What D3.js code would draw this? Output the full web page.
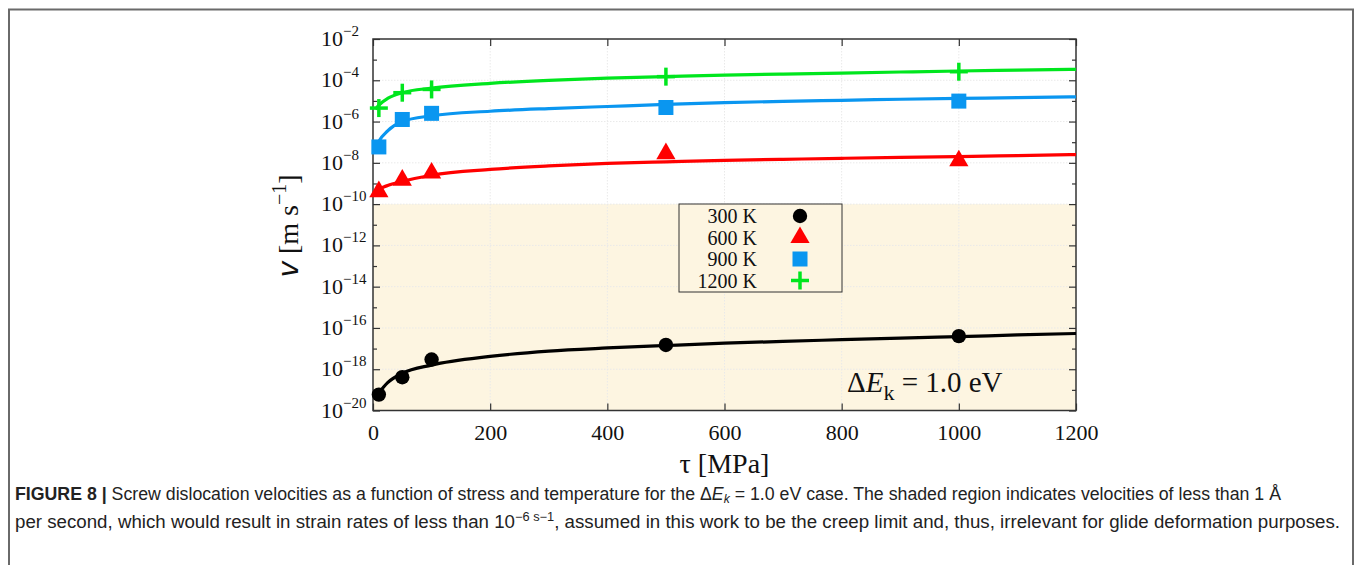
<!DOCTYPE html>
<html><head><meta charset="utf-8">
<script src="https://cdn.jsdelivr.net/npm/d3@7"></script>
<style>html,body{margin:0;padding:0;background:#fff;}svg{display:block;}</style>
</head><body>
<script>
// ---- data ----
const seriesNames = ["300 K", "600 K", "900 K", "1200 K"];
const seriesColors = ["#000000", "#ff0000", "#0a96f0", "#00e61e"];
const pointTau = [10, 50, 100, 500, 1000];
const v300 = [5.9e-20, 4.1e-19, 2.95e-18, 1.5e-17, 4.0e-17];
const v600 = [4.0e-10, 1.45e-9, 3.2e-9, 2.8e-8, 1.26e-8];
const v900 = [5.9e-8, 1.26e-6, 2.5e-6, 4.8e-6, 9.8e-6];
const v1200 = [4.5e-6, 2.5e-5, 3.6e-5, 1.5e-4, 2.6e-4];
// fitted curves (log10 of v)
const fitTau = [4, 10, 25, 50, 100, 200, 300, 400, 500, 600, 700, 800, 900, 1000, 1100, 1200];
const fit300 = [-19.38, -19.15, -18.65, -18.2, -17.8, -17.38, -17.12, -16.97, -16.85, -16.74, -16.65, -16.57, -16.49, -16.42, -16.34, -16.27];
const fit600 = [-9.5, -9.3, -9.1, -8.9, -8.6, -8.32, -8.15, -8.03, -7.95, -7.88, -7.83, -7.78, -7.74, -7.7, -7.65, -7.6];
const fit900 = [-7.3, -6.95, -6.45, -6.0, -5.72, -5.5, -5.37, -5.27, -5.17, -5.08, -5.02, -4.97, -4.92, -4.88, -4.84, -4.8];
const fit1200 = [-5.4, -5.2, -4.88, -4.6, -4.38, -4.15, -4.0, -3.9, -3.82, -3.75, -3.7, -3.65, -3.6, -3.55, -3.51, -3.47];
const xTicks = [0, 200, 400, 600, 800, 1000, 1200];
const yTickExps = [-20, -18, -16, -14, -12, -10, -8, -6, -4, -2];
const shadeLimit = 1e-10;

const W = 1355, H = 565;
const svg = d3.select("body").append("svg").attr("width", W).attr("height", H);
const serif = "'Liberation Serif','Times New Roman',serif";

// outer frame
svg.append("path").attr("d", `M9,${H+5} L9,9.5 L1353,9.5 L1353,${H+5}`)
  .attr("fill", "none").attr("stroke", "#6a6a6a").attr("stroke-width", 2);

const x = d3.scaleLinear().domain([0, 1200]).range([373, 1076]);
const y = d3.scaleLog().domain([1e-20, 1e-2]).range([410.5, 39]);
const L = x(0), R = x(1200), T = y(1e-2), B = y(1e-20);

// shaded region
svg.append("rect").attr("x", L).attr("y", y(shadeLimit)).attr("width", R - L).attr("height", B - y(shadeLimit))
  .attr("fill", "#fdf5e1");

// faint grid
const grid = svg.append("g").attr("stroke", "#e9e9e9").attr("stroke-width", 1).attr("stroke-dasharray", "1.5,1.5");
xTicks.slice(1, -1).forEach(t => grid.append("line").attr("x1", x(t)).attr("x2", x(t)).attr("y1", T).attr("y2", B));
yTickExps.slice(1, -1).forEach(e => grid.append("line").attr("x1", L).attr("x2", R).attr("y1", y(10 ** e)).attr("y2", y(10 ** e)));

// axes via d3
const xAxisB = d3.axisBottom(x).tickValues(xTicks).tickSize(-7).tickPadding(14).tickFormat(d3.format("d"));
const gx = svg.append("g").attr("transform", `translate(0,${B})`).call(xAxisB);
const xAxisT = d3.axisTop(x).tickValues(xTicks).tickSize(-7).tickFormat("");
const gxt = svg.append("g").attr("transform", `translate(0,${T})`).call(xAxisT);
const minorExps = d3.range(-19, -2, 2);
const yAxisL = d3.axisLeft(y).tickValues(yTickExps.map(e => 10 ** e)).tickSize(-7).tickFormat("");
const gy = svg.append("g").attr("transform", `translate(${L},0)`).call(yAxisL);
const yAxisLm = d3.axisLeft(y).tickValues(minorExps.map(e => 10 ** e)).tickSize(-4).tickFormat("");
const gym = svg.append("g").attr("transform", `translate(${L},0)`).call(yAxisLm);
const yAxisR = d3.axisRight(y).tickValues(yTickExps.map(e => 10 ** e)).tickSize(-7).tickFormat("");
const gyr = svg.append("g").attr("transform", `translate(${R},0)`).call(yAxisR);
const yAxisRm = d3.axisRight(y).tickValues(minorExps.map(e => 10 ** e)).tickSize(-4).tickFormat("");
const gyrm = svg.append("g").attr("transform", `translate(${R},0)`).call(yAxisRm);
[gx, gxt, gy, gym, gyr, gyrm].forEach(g => {
  g.select(".domain").remove();
  g.selectAll(".tick line").attr("stroke", "#333").attr("stroke-width", 1.2);
});
gx.selectAll(".tick text").attr("font-family", serif).attr("font-size", 22).attr("fill", "#111");

// y tick labels with superscripts
yTickExps.forEach(e => {
  const t = svg.append("text").attr("x", 345).attr("y", y(10 ** e) + 7)
    .attr("font-family", serif).attr("font-size", 22).attr("fill", "#111").attr("text-anchor", "start");
  t.append("tspan").text("10").attr("x", 321);
  t.append("tspan").text("\u2212" + (-e)).attr("font-size", 15).attr("dy", -10);
});

// frame of plot
svg.append("rect").attr("x", L).attr("y", T).attr("width", R - L).attr("height", B - T)
  .attr("fill", "none").attr("stroke", "#333").attr("stroke-width", 1.5);

// curves
const line = d3.line().x(d => x(d[0])).y(d => y(10 ** d[1])).curve(d3.curveMonotoneX);
const fits = [fit300, fit600, fit900, fit1200];
const pts = [v300, v600, v900, v1200];
const clip = svg.append("clipPath").attr("id", "c").append("rect").attr("x", L).attr("y", T).attr("width", R - L).attr("height", B - T);
fits.forEach((f, i) => {
  svg.append("path").attr("clip-path", "url(#c)").datum(fitTau.map((t, k) => [t, f[k]]))
    .attr("d", line).attr("fill", "none").attr("stroke", seriesColors[i]).attr("stroke-width", 3.2);
});

// markers
function drawMarker(g, i, cx, cy) {
  const c = seriesColors[i];
  if (i === 0) g.append("circle").attr("cx", cx).attr("cy", cy).attr("r", 7.2).attr("fill", c);
  else if (i === 1) g.append("path").attr("d", d3.symbol(d3.symbolTriangle, 160)()).attr("transform", `translate(${cx},${cy})`).attr("fill", c);
  else if (i === 2) g.append("rect").attr("x", cx - 7.5).attr("y", cy - 7.5).attr("width", 15).attr("height", 15).attr("fill", c);
  else {
    g.append("line").attr("x1", cx - 9).attr("x2", cx + 9).attr("y1", cy).attr("y2", cy).attr("stroke", c).attr("stroke-width", 3.5);
    g.append("line").attr("x1", cx).attr("x2", cx).attr("y1", cy - 9).attr("y2", cy + 9).attr("stroke", c).attr("stroke-width", 3.5);
  }
}
const mg = svg.append("g");
pts.forEach((arr, i) => arr.forEach((v, k) => drawMarker(mg, i, x(pointTau[k]), y(v))));

// legend
const lg = svg.append("g");
lg.append("rect").attr("x", 679).attr("y", 204).attr("width", 163).attr("height", 88)
  .attr("fill", "#fdf5e1").attr("stroke", "#333").attr("stroke-width", 1);
seriesNames.forEach((n, i) => {
  const cy = 216 + i * 21.5;
  lg.append("text").attr("x", 757).attr("y", cy + 7).attr("text-anchor", "end")
    .attr("font-family", serif).attr("font-size", 20).attr("fill", "#111").text(n);
  drawMarker(lg, i, 800, cy);
});

// annotation
const ann = svg.append("text").attr("x", 847).attr("y", 392).attr("font-family", serif).attr("font-size", 29).attr("fill", "#111");
ann.append("tspan").text("\u0394");
ann.append("tspan").text("E").attr("font-style", "italic");
ann.append("tspan").text("k").attr("font-size", 22).attr("dy", 8);
ann.append("tspan").text(" = 1.0 eV").attr("dy", -8);

// axis titles
svg.append("text").attr("x", x(600)).attr("y", 473).attr("text-anchor", "middle")
  .attr("font-family", serif).attr("font-size", 28).attr("fill", "#111").text("\u03c4 [MPa]");
const yl = svg.append("text").attr("transform", "translate(298,226) rotate(-90)").attr("text-anchor", "middle")
  .attr("font-family", serif).attr("font-size", 28).attr("fill", "#111");
yl.append("tspan").text("v").attr("font-style", "italic").attr("font-family", "'DejaVu Sans',sans-serif");
yl.append("tspan").text(" [m s");
yl.append("tspan").text("\u22121").attr("font-size", 20).attr("dy", -12);
yl.append("tspan").text("]").attr("dy", 12);

// caption
const sans = "'Liberation Sans',Arial,sans-serif";
const c1 = svg.append("text").attr("x", 15).attr("y", 500).attr("font-family", sans).attr("font-size", 17.5).attr("fill", "#222")
  .attr("textLength", 1266).attr("lengthAdjust", "spacingAndGlyphs");
c1.append("tspan").text("FIGURE 8 | ").attr("font-weight", "bold");
c1.append("tspan").text("Screw dislocation velocities as a function of stress and temperature for the \u0394");
c1.append("tspan").text("E").attr("font-style", "italic");
c1.append("tspan").text("k").attr("font-style", "italic").attr("font-size", 12).attr("dy", 3);
c1.append("tspan").text(" = 1.0 eV case. The shaded region indicates velocities of less than 1 \u00c5").attr("dy", -3);
const c2 = svg.append("text").attr("x", 15).attr("y", 528).attr("font-family", sans).attr("font-size", 17.5).attr("fill", "#222")
  .attr("textLength", 1325).attr("lengthAdjust", "spacingAndGlyphs");
c2.append("tspan").text("per second, which would result in strain rates of less than 10");
c2.append("tspan").text("\u22126 s\u22121").attr("font-size", 12).attr("dy", -7);
c2.append("tspan").text(", assumed in this work to be the creep limit and, thus, irrelevant for glide deformation purposes.").attr("dy", 7);
</script>
</body></html>
